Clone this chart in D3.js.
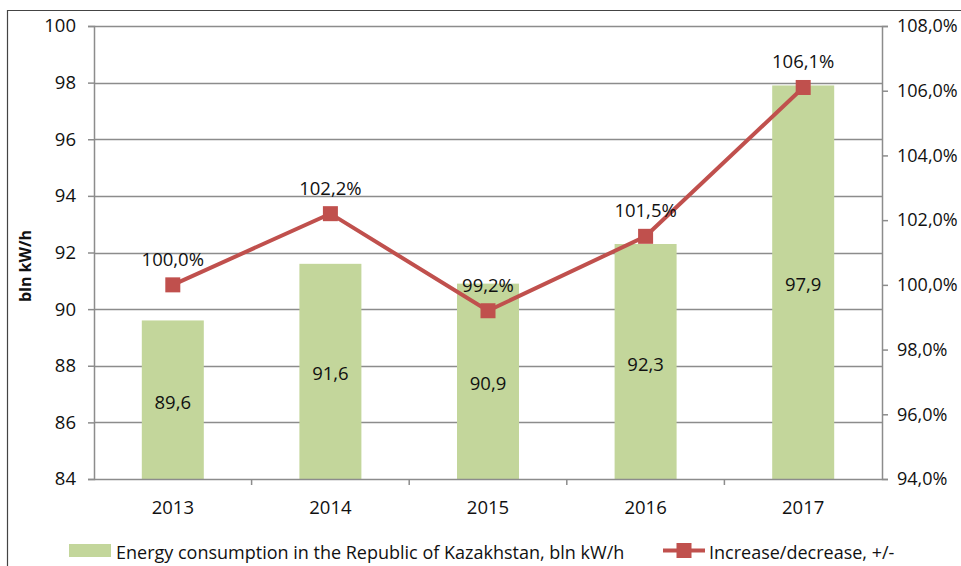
<!DOCTYPE html>
<html>
<head>
<meta charset="utf-8">
<script src="https://cdn.jsdelivr.net/npm/d3@7"></script>
<style>
body { margin: 0; background: #fff; }
svg text { font-family: "Open Sans", sans-serif; fill: #111; }
</style>
</head>
<body>
<script>
var years = ["2013", "2014", "2015", "2016", "2017"];
var consumption = [89.6, 91.6, 90.9, 92.3, 97.9];
var change = [100.0, 102.2, 99.2, 101.5, 106.1];
var leftTicks = [84, 86, 88, 90, 92, 94, 96, 98, 100];
var rightTicks = [94, 96, 98, 100, 102, 104, 106, 108];

var width = 961, height = 566;
var pLeft = 94, pRight = 882, pTop = 26, pBottom = 479;
var fs = 18.5;

var svg = d3.select("body").append("svg")
    .attr("width", width)
    .attr("height", height);

// outer frame
svg.append("path")
    .attr("d", "M7.5," + height + "V10.5H" + width)
    .attr("fill", "none").attr("stroke", "#444").attr("stroke-width", 1.2);

var x = d3.scaleBand().domain(years).range([pLeft, pRight]).paddingInner(0).paddingOuter(0);
var y = d3.scaleLinear().domain([84, 100]).range([pBottom, pTop]);
var y2 = d3.scaleLinear().domain([94, 108]).range([pBottom, pTop]);
var fmt = function(v){ return d3.format(".1f")(v).replace(".", ","); };

// gridlines
svg.append("g").selectAll("line").data(leftTicks.slice(1)).enter().append("line")
    .attr("x1", pLeft).attr("x2", pRight)
    .attr("y1", function(d){ return Math.round(y(d)) + 0.5; })
    .attr("y2", function(d){ return Math.round(y(d)) + 0.5; })
    .attr("stroke", "#8c8c8c").attr("stroke-width", 1.5);

// bars
var barW = 62;
svg.append("g").selectAll("rect").data(years).enter().append("rect")
    .attr("x", function(d){ return x(d) + x.bandwidth()/2 - barW/2; })
    .attr("width", barW)
    .attr("y", function(d, i){ return y(consumption[i]); })
    .attr("height", function(d, i){ return pBottom - y(consumption[i]); })
    .attr("fill", "#c3d69b");

svg.append("g").selectAll("text").data(years).enter().append("text")
    .attr("x", function(d){ return x(d) + x.bandwidth()/2; })
    .attr("y", function(d, i){ return (y(consumption[i]) + pBottom)/2 + 9; })
    .attr("text-anchor", "middle").attr("font-size", fs)
    .text(function(d, i){ return fmt(consumption[i]); });

// axes
var leftAxis = d3.axisLeft(y).tickValues(leftTicks).tickSize(6).tickPadding(12).tickFormat(d3.format("d"));
var gl = svg.append("g").attr("transform", "translate(" + pLeft + ",0)").call(leftAxis);
var rightAxis = d3.axisRight(y2).tickValues(rightTicks).tickSize(6).tickPadding(9)
    .tickFormat(function(d){ return fmt(d) + "%"; });
var gr = svg.append("g").attr("transform", "translate(" + pRight + ",0)").call(rightAxis);
var xAxis = d3.axisBottom(x).tickSize(0);
var gx = svg.append("g").attr("transform", "translate(0," + pBottom + ")").call(xAxis);

[gl, gr, gx].forEach(function(g){
    g.select(".domain").attr("stroke", "#8c8c8c").attr("stroke-width", 1.5);
    g.selectAll(".tick line").attr("stroke", "#8c8c8c").attr("stroke-width", 1.5);
    g.selectAll("text").attr("font-size", fs).attr("fill", "#111")
        .style("font-family", "'Open Sans', sans-serif");
});
gr.selectAll(".tick text").attr("font-size", 18);
gx.selectAll(".tick text").attr("y", 35).attr("dy", 0);
gx.select(".domain").attr("d", "M" + pLeft + ",0.5H" + pRight);

// tick marks between categories
svg.append("g").selectAll("line").data(years.slice(1)).enter().append("line")
    .attr("x1", function(d){ return x(d); }).attr("x2", function(d){ return x(d); })
    .attr("y1", pBottom).attr("y2", pBottom + 6)
    .attr("stroke", "#8c8c8c").attr("stroke-width", 1.5);

// y title
svg.append("text")
    .attr("transform", "translate(31,266) rotate(-90)")
    .attr("text-anchor", "middle").attr("font-size", 16).attr("font-weight", "bold")
    .text("bln kW/h");

// line
var cx = function(d, i){ return x(years[i]) + x.bandwidth()/2; };
var line = d3.line().x(cx).y(function(d){ return y2(d); });
svg.append("path").datum(change)
    .attr("d", line)
    .attr("fill", "none").attr("stroke", "#c0504d").attr("stroke-width", 4);
svg.append("g").selectAll("rect").data(change).enter().append("rect")
    .attr("x", function(d, i){ return cx(d, i) - 7.5; })
    .attr("y", function(d){ return y2(d) - 7.5; })
    .attr("width", 15).attr("height", 15)
    .attr("fill", "#c0504d");
svg.append("g").selectAll("text").data(change).enter().append("text")
    .attr("x", cx)
    .attr("y", function(d){ return y2(d) - 19; })
    .attr("text-anchor", "middle").attr("font-size", fs)
    .text(function(d){ return fmt(d) + "%"; });

// legend
var lg = svg.append("g");
lg.append("rect").attr("x", 69).attr("y", 544).attr("width", 42).attr("height", 13).attr("fill", "#c3d69b");
lg.append("text").attr("x", 116).attr("y", 559).attr("font-size", 18)
    .text("Energy consumption in the Republic of Kazakhstan, bln kW/h");
lg.append("line").attr("x1", 663).attr("x2", 705).attr("y1", 550.5).attr("y2", 550.5)
    .attr("stroke", "#c0504d").attr("stroke-width", 4);
lg.append("rect").attr("x", 676.5).attr("y", 543).attr("width", 15).attr("height", 15).attr("fill", "#c0504d");
lg.append("text").attr("x", 709).attr("y", 559).attr("font-size", 18)
    .text("Increase/decrease, +/-");
</script>
</body>
</html>
